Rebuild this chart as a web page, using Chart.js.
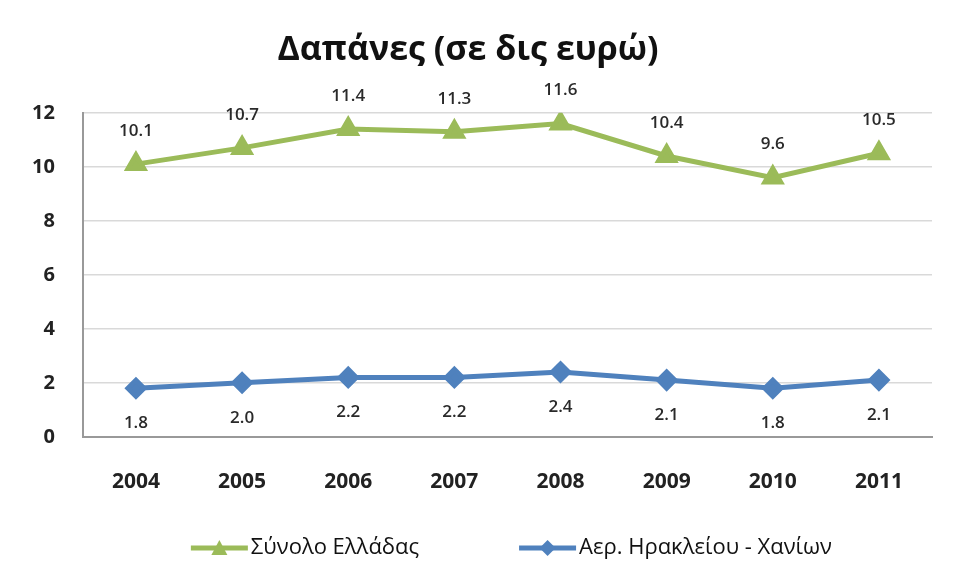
<!DOCTYPE html>
<html lang="el">
<head>
<meta charset="UTF-8">
<title>Δαπάνες</title>
<script src="https://cdn.jsdelivr.net/npm/chart.js"></script>
<style>
  html, body { margin: 0; padding: 0; background: #fff; }
  #wrap { width: 954px; height: 578px; }
</style>
</head>
<body>
<div id="wrap"><canvas id="grafico" width="954" height="578"></canvas></div>
<script>
const years = ['2004', '2005', '2006', '2007', '2008', '2009', '2010', '2011'];
const synoloEllada = [10.1, 10.7, 11.4, 11.3, 11.6, 10.4, 9.6, 10.5];
const heraklionChania = [1.8, 2.0, 2.2, 2.2, 2.4, 2.1, 1.8, 2.1];
const yTicks = [0, 2, 4, 6, 8, 10, 12];

const green = '#9BBB59';
const blue = '#4F81BD';
const fontFam = '"Open Sans", "Noto Sans", sans-serif';

// value labels: green above the point, blue below
const valueLabels = {
    id: 'valueLabels',
    afterDatasetsDraw(chart) {
        const ctx = chart.ctx;
        ctx.save();
        ctx.font = '600 17px ' + fontFam;
        ctx.fillStyle = '#2a2a2a';
        ctx.textAlign = 'center';
        ctx.textBaseline = 'middle';
        chart.data.datasets.forEach((ds, i) => {
            const meta = chart.getDatasetMeta(i);
            meta.data.forEach((pt, j) => {
                const dy = i === 0 ? -33 : 35;
                ctx.fillText(ds.data[j].toFixed(1), pt.x, pt.y + dy);
            });
        });
        ctx.restore();
    }
};

// legend like excel: line with a marker in the middle, then the text
const excelLegend = {
    id: 'excelLegend',
    afterDraw(chart) {
        const ctx = chart.ctx;
        const area = chart.chartArea;
        const y = 548;
        const iconW = 57, gapText = 3, gapItems = 100;
        ctx.save();
        ctx.font = '22px ' + fontFam;
        const items = chart.data.datasets.map(ds => ({
            ds, w: ctx.measureText(ds.label).width
        }));
        let total = 0;
        items.forEach((it, i) => { total += iconW + gapText + it.w + (i ? gapItems : 0); });
        let x = (area.left + area.right) / 2 - total / 2 + 4;
        items.forEach(it => {
            const c = it.ds.borderColor;
            ctx.strokeStyle = c;
            ctx.fillStyle = c;
            ctx.lineWidth = 5;
            ctx.beginPath(); ctx.moveTo(x, y); ctx.lineTo(x + iconW, y); ctx.stroke();
            const cx = x + iconW / 2;
            ctx.beginPath();
            if (it.ds.pointStyle === 'triangle') {
                ctx.moveTo(cx, y - 8); ctx.lineTo(cx + 8, y + 7); ctx.lineTo(cx - 8, y + 7);
            } else {
                ctx.moveTo(cx, y - 8); ctx.lineTo(cx + 8, y); ctx.lineTo(cx, y + 8); ctx.lineTo(cx - 8, y);
            }
            ctx.closePath(); ctx.fill();
            ctx.fillStyle = '#111';
            ctx.textAlign = 'left';
            ctx.textBaseline = 'middle';
            ctx.fillText(it.ds.label, x + iconW + gapText, y);
            x += iconW + gapText + it.w + gapItems;
        });
        ctx.restore();
    }
};

const ctx = document.getElementById('grafico').getContext('2d');
const grafico = new Chart(ctx, {
    type: 'line',
    data: {
        labels: years,
        datasets: [{
            label: 'Σύνολο Ελλάδας',
            data: synoloEllada,
            borderColor: green,
            backgroundColor: green,
            borderWidth: 5,
            pointStyle: 'triangle',
            pointRadius: 9,
            pointHoverRadius: 9,
            tension: 0
        }, {
            label: 'Αερ. Ηρακλείου - Χανίων',
            data: heraklionChania,
            borderColor: blue,
            backgroundColor: blue,
            borderWidth: 5,
            pointStyle: 'rectRot',
            pointRadius: 8,
            pointHoverRadius: 8,
            tension: 0
        }]
    },
    options: {
        responsive: false,
        animation: false,
        layout: { padding: { top: 10, left: 4, right: 22, bottom: 50 } },
        scales: {
            x: {
                offset: true,
                grid: { display: false, drawTicks: false },
                border: { color: '#999', width: 2 },
                ticks: { color: '#222', padding: 33, font: { family: fontFam, size: 21, weight: 'bold' } }
            },
            y: {
                min: 0,
                max: 12,
                afterBuildTicks(axis) { axis.ticks = yTicks.map(v => ({ value: v })); },
                grid: { color: '#d9d9d9', lineWidth: 1.5, drawTicks: false },
                border: { color: '#999', width: 2 },
                ticks: { color: '#222', padding: 28, font: { family: fontFam, size: 20, weight: 'bold' } }
            }
        },
        plugins: {
            title: {
                display: true,
                text: 'Δαπάνες (σε δις ευρώ)',
                color: '#111',
                font: { family: fontFam, size: 34, weight: 'bold' },
                padding: { top: 20, bottom: 42 }
            },
            legend: { display: false },
            tooltip: { enabled: false }
        }
    },
    plugins: [valueLabels, excelLegend]
});
</script>
</body>
</html>
